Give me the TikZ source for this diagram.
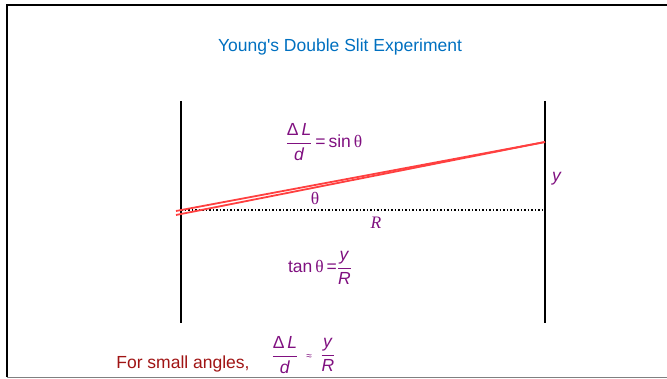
\documentclass[tikz,border=0pt]{standalone}
\usepackage{amsmath}
\usepackage{fontspec}
\setmainfont{Liberation Sans}
\newfontfamily\thetafont{Liberation Serif}
\definecolor{titleblue}{RGB}{0,112,192}
\definecolor{eqpurple}{RGB}{128,16,128}
\definecolor{noteRed}{RGB}{160,20,20}
\definecolor{rayred}{RGB}{255,64,64}
\newcommand{\slitfrac}[2]{$\genfrac{}{}{1.2pt}{0}{\text{#1}}{\text{#2}}$}
\newcommand{\thsym}{{\thetafont θ}}

\begin{document}
\begin{tikzpicture}[x=1pt,y=-1pt,
	screen/.style={line width=2pt},
	ray/.style={rayred,line width=1.8pt},
	eq/.style={eqpurple,inner sep=0pt},
	font=\fontsize{17.5}{20}\selectfont]
\useasboundingbox (0,0) rectangle (667,379);
% frame
\draw[line width=2pt] (667,5.5) -- (6.5,5.5) -- (6.5,377);
\draw[gray,line width=1.5pt] (6.5,377.5) -- (667,377.5);
\node[titleblue] (title) at (340,47) {Young\textquotesingle s Double Slit Experiment};
% slits and screen
\coordinate (slitA) at (176,211);
\coordinate (slitB) at (176,215);
\coordinate (spot) at (545,142);
\coordinate (centre) at (545,210);
\draw[screen] (181,101) -- (181,323);
\draw[screen] (545,101) -- (545,323);
\draw[line width=1.5pt,dotted] (181,210) -- (centre);
\draw[ray] (slitA) -- (spot);
\draw[ray] (slitB) -- (spot);
% labels
\node[eq] (sine) at (324,142) {\slitfrac{Δ\,\textit{L}}{\textit{d}}\,=\,sin\,\thsym};
\node[eq] (theta) at (315,198) {\thsym};
\node[eq] (R) at (376,223) {\thetafont\itshape R};
\node[eq] (y) at (557,179) {\textit{y}};
\node[eq] (tan) at (320,268) {tan\,\thsym\,=\slitfrac{\textit{y}}{\textit{R}}};
\node[noteRed] (note) at (183,364) {For small angles,};
\node[eq] (dL) at (285,355) {\slitfrac{Δ\,\textit{L}}{\textit{d}}};
\node[eq,font=\fontsize{10}{11}\selectfont] (approx) at (309,357) {≈};
\node[eq] (yR) at (328,355) {\slitfrac{\textit{y}}{\textit{R}}};
\end{tikzpicture}
\end{document}
